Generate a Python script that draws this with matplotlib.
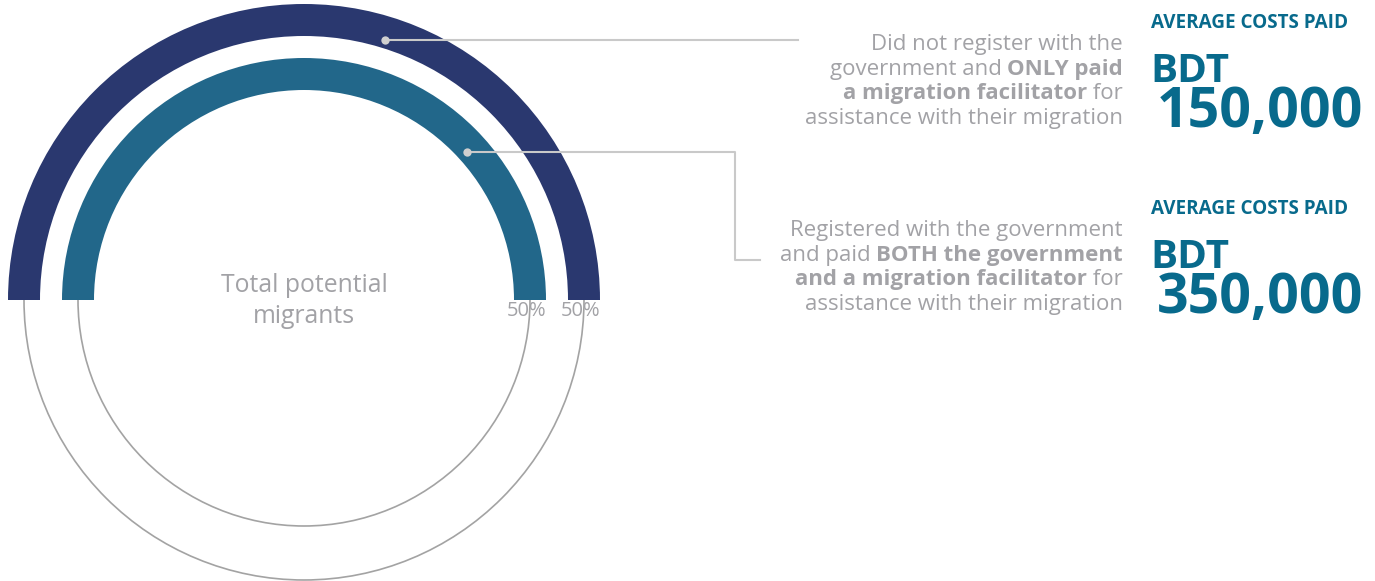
import matplotlib
matplotlib.use("Agg")
import matplotlib.pyplot as plt
from matplotlib.patches import Wedge, Circle

plt.rcParams['font.family'] = ['Open Sans', 'DejaVu Sans']

# data
groups = ["Did not register, paid facilitator only",
          "Registered, paid government and facilitator"]
shares = [50, 50]              # percent of total potential migrants
costs = [150000, 350000]       # average costs paid, BDT
center_label = "Total potential\nmigrants"
desc_lines = [
    [[("Did not register with the", False)],
     [("government and ", False), ("ONLY paid", True)],
     [("a migration facilitator", True), (" for", False)],
     [("assistance with their migration", False)]],
    [[("Registered with the government", False)],
     [("and paid ", False), ("BOTH the government", True)],
     [("and a migration facilitator", True), (" for", False)],
     [("assistance with their migration", False)]],
]

ring_colors = ["#2a386f", "#22678a"]
teal = "#086a8c"
grey_txt = "#a2a2a6"
line_grey = "#c9c9c9"

W, H = 1375, 581
fig = plt.figure(figsize=(W / 100, H / 100), dpi=100)
ax = fig.add_axes([0, 0, 1, 1])
ax.set_xlim(0, W)
ax.set_ylim(H, 0)
ax.axis("off")

cx, cy = 304, 300
radii = [296, 242]   # outer radius of each ring
band = 32

for i in range(2):
    r = radii[i]
    # thin grey full circle through band centre
    ax.add_patch(Circle((cx, cy), r - band / 2, fill=False, ec="#a3a3a3", lw=1.2, zorder=1))
    # coloured arc for the share (y axis is inverted -> 180..360 is the top)
    ang = shares[i] / 100 * 360
    ax.add_patch(Wedge((cx, cy), r, 180, 180 + ang, width=band, fc=ring_colors[i],
                       ec="none", zorder=2))
    ax.text(cx + r - band / 2 - 3, cy + 11, f"{shares[i]}%", ha="center", va="center",
            fontsize=14.5, color=grey_txt, zorder=3)

ax.text(cx, cy + 1, center_label, ha="center", va="center", fontsize=17.8,
        color=grey_txt, linespacing=1.35)

# leader lines
ax.plot([385, 798], [40, 40], color=line_grey, lw=1.5, zorder=3)
ax.plot([467, 735, 735, 760], [152, 152, 260, 260], color=line_grey, lw=1.5, zorder=3)
ax.plot([385, 467], [40, 152], "o", color="#cfcfcf", ms=6, zorder=4, mec="none")

renderer = fig.canvas.get_renderer()


def right_line(x_right, y, segs, size=16):
    x = x_right
    for txt, bold in reversed(segs):
        t = ax.text(x, y, txt, ha="right", va="baseline", fontsize=size,
                    color=grey_txt, fontweight="bold" if bold else "normal")
        x -= t.get_window_extent(renderer).width


block_y = [50, 236]
for b in range(2):
    y0 = block_y[b]
    for k, segs in enumerate(desc_lines[b]):
        right_line(1123, y0 + k * 24.6, segs)
    ax.text(1151, y0 - 27, "AVERAGE COSTS PAID", ha="left", va="center",
            fontsize=13.6, fontweight="bold", color=teal)
    ax.text(1150, y0 + 32, "BDT", ha="left", va="baseline", fontsize=29,
            fontweight="bold", color=teal)
    ax.text(1363, y0 + 77, f"{costs[b]:,}", ha="right", va="baseline", fontsize=40,
            fontweight="bold", color=teal)

fig.savefig("out.png", dpi=100)
